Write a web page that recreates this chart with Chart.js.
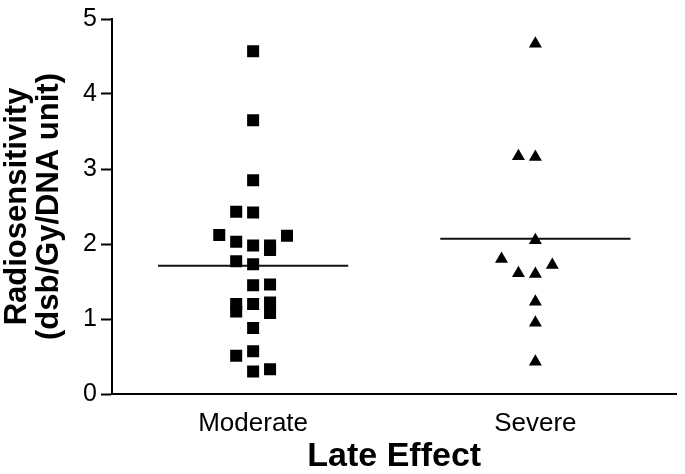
<!DOCTYPE html>
<html>
<head>
<meta charset="utf-8">
<script src="https://cdn.jsdelivr.net/npm/chart.js@4"></script>
<style>
  html, body { margin: 0; padding: 0; background: #fff; }
  #wrap { width: 685px; height: 474px; }
</style>
</head>
<body>
<div id="wrap"><canvas id="scatterChart" width="685" height="474"></canvas></div>
<script>
const categories = ["Moderate", "Severe"];

// values, with the jitter column each mark sits in
const moderateValues = [4.57, 3.65, 2.85, 2.43, 2.42, 2.12, 2.11, 2.03, 1.98, 1.98, 1.92, 1.77, 1.73,
                        1.45, 1.46, 1.20, 1.10, 1.20, 1.22, 1.08, 0.88, 0.51, 0.57, 0.30, 0.33];
const moderateSlots  = [0, 0, 0, -1, 0, -2, 2, -1, 0, 1, 1, -1, 0,
                        0, 1, -1, -1, 0, 1, 1, 0, -1, 0, 0, 1];

const severeValues = [4.67, 3.17, 3.16, 2.05, 1.80, 1.72, 1.61, 1.60, 1.23, 0.95, 0.43];
const severeSlots  = [0, -1, 0, 0, -2, 1, -1, 0, 0, 0, 0];

const groupMeans = [1.71, 2.07];
const yTicks = [0, 1, 2, 3, 4, 5];

const slotWidth = 0.06;
const meanHalfWidth = 0.337;

function toPoints(values, slots, group) {
  return values.map((v, i) => ({ x: group + slots[i] * slotWidth, y: v }));
}

const FONT = "'Liberation Sans', Arial, Helvetica, sans-serif";

const ctx = document.getElementById("scatterChart").getContext("2d");

const chart = new Chart(ctx, {
  type: "scatter",
  data: {
    datasets: [
      {
        label: categories[0],
        data: toPoints(moderateValues, moderateSlots, 0),
        pointStyle: "rect",
        pointRadius: 8.5,
        backgroundColor: "#000",
        borderWidth: 0
      },
      {
        label: categories[1],
        data: toPoints(severeValues, severeSlots, 1),
        pointStyle: "triangle",
        pointRadius: 7.5,
        backgroundColor: "#000",
        borderWidth: 0
      },
      ...groupMeans.map((m, g) => ({
        label: "mean " + categories[g],
        type: "line",
        data: [{ x: g - meanHalfWidth, y: m }, { x: g + meanHalfWidth, y: m }],
        borderColor: "#111",
        borderWidth: 2,
        pointRadius: 0,
        fill: false
      }))
    ]
  },
  options: {
    responsive: false,
    animation: false,
    layout: { padding: { top: 14, right: 3, left: 0, bottom: 0 } },
    plugins: {
      legend: { display: false },
      tooltip: { enabled: false }
    },
    scales: {
      x: {
        type: "linear",
        min: -0.5,
        max: 1.5,
        afterBuildTicks: axis => { axis.ticks = categories.map((c, i) => ({ value: i })); },
        ticks: {
          callback: v => categories[v],
          color: "#000",
          font: { family: FONT, size: 26 },
          padding: 14
        },
        grid: { display: false, drawTicks: false },
        border: { display: true, color: "#000", width: 2 },
        title: {
          display: true,
          text: "Late Effect",
          color: "#000",
          font: { family: FONT, size: 34, weight: "bold", lineHeight: 1 },
          padding: { top: 0, bottom: 0 }
        },
        afterFit: axis => { axis.height = 80; }
      },
      y: {
        min: 0,
        max: 5,
        afterBuildTicks: axis => { axis.ticks = yTicks.map(v => ({ value: v })); },
        ticks: {
          color: "#000",
          font: { family: FONT, size: 25 },
          padding: 4
        },
        grid: {
          display: true,
          drawOnChartArea: false,
          drawTicks: true,
          tickLength: 11,
          tickWidth: 2,
          tickColor: "#000"
        },
        border: { display: true, color: "#000", width: 2 },
        title: {
          display: true,
          text: ["Radiosensitivity", "(dsb/Gy/DNA unit)"],
          color: "#000",
          font: { family: FONT, size: 31, weight: "bold", lineHeight: 1.05 },
          padding: { top: 1, bottom: 0 }
        },
        afterFit: axis => { axis.width = 112; }
      }
    }
  }
});
</script>
</body>
</html>
